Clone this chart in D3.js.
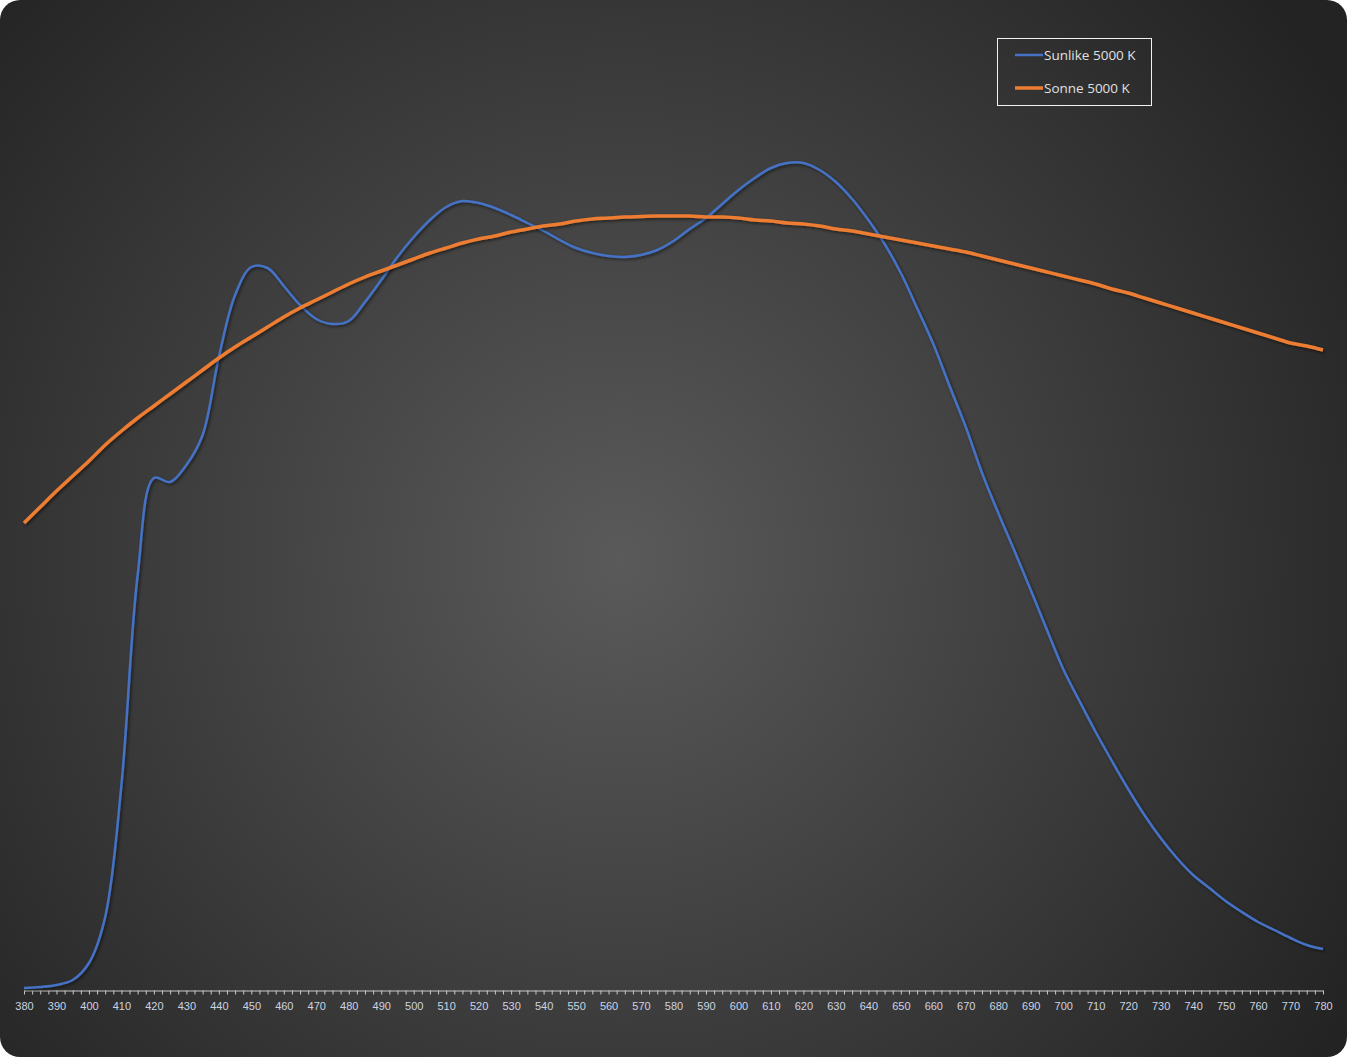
<!DOCTYPE html>
<html>
<head>
<meta charset="utf-8">
<script src="https://cdn.jsdelivr.net/npm/d3@7"></script>
<style>
  html, body { margin: 0; padding: 0; background: #fff; }
  svg { display: block; }
</style>
</head>
<body>
<div id="chart"></div>
<script>
// wavelength in nm, 5 nm steps
var wavelengths = d3.range(380, 781, 5);

// relative spectral power (arbitrary units)
var sunlike = [
  2, 3, 5, 10, 27, 73, 205, 415, 512, 508,
  525, 555, 633, 695, 723, 722, 704, 685, 671, 666,
  669, 688, 710, 733, 753, 770, 783, 789, 787, 782,
  775, 767, 759, 750, 742, 737, 734, 733, 735, 740,
  749, 761, 772, 786, 800, 812, 822, 827, 827, 820,
  808, 791, 770, 746, 717, 682, 646, 604, 563, 517,
  477, 439, 400, 360, 321, 289, 258, 229, 201, 175,
  152, 132, 115, 102, 89, 78, 68, 60, 52, 45, 41
];

var sonne = [
  467, 483, 499, 514, 529, 545, 559, 572, 584, 596,
  608, 620, 632, 643, 653, 663, 673, 682, 690, 698,
  706, 713, 719, 725, 731, 737, 742, 747, 751, 754,
  758, 761, 764, 766, 769, 771, 772, 773, 773.5, 774,
  774, 774, 773, 773, 772, 770, 769, 767, 766, 764,
  761, 759, 756, 753, 750, 747, 744, 741, 738, 734,
  730, 726, 722, 718, 714, 710, 706, 701, 697, 692,
  687, 682, 677, 672, 667, 662, 657, 652, 647, 644, 640
];

var seriesNames = ["Sunlike 5000 K", "Sonne 5000 K"];
var seriesColors = ["#4472c4", "#ed7d31"];
var seriesWidths = [2.5, 3.5];

var tickValues = d3.range(380, 780.1, 2.5);

var width = 1347, height = 1057;

var svg = d3.select("#chart").append("svg")
    .attr("width", width)
    .attr("height", height)
    .attr("font-family", "'Open Sans', 'Noto Sans', sans-serif");

var defs = svg.append("defs");

var grad = defs.append("radialGradient")
    .attr("id", "bg")
    .attr("gradientUnits", "userSpaceOnUse")
    .attr("cx", 620).attr("cy", 560)
    .attr("r", 860);
grad.append("stop").attr("offset", "0%").attr("stop-color", "#5a5a5a");
grad.append("stop").attr("offset", "100%").attr("stop-color", "#232323");

var shadow = defs.append("filter")
    .attr("id", "shadow")
    .attr("x", "-5%").attr("y", "-5%")
    .attr("width", "110%").attr("height", "110%");
shadow.append("feDropShadow")
    .attr("dx", 1.5).attr("dy", 1.5)
    .attr("stdDeviation", 1.5)
    .attr("flood-color", "#000")
    .attr("flood-opacity", 0.55);

svg.append("rect")
    .attr("width", width)
    .attr("height", height)
    .attr("rx", 20).attr("ry", 20)
    .attr("fill", "url(#bg)");

var x = d3.scaleLinear().domain([380, 780]).range([24, 1323]);
var y = d3.scaleLinear().domain([0, 827]).range([990, 163]);

// axis
var axis = d3.axisBottom(x)
    .tickValues(tickValues)
    .tickSize(4)
    .tickSizeOuter(0)
    .tickFormat(function(d) { return d % 10 === 0 ? d : ""; });

var gx = svg.append("g")
    .attr("transform", "translate(0,990.5)")
    .call(axis);

gx.select(".domain").attr("stroke", "#c8c8c8").attr("stroke-width", 1);
gx.selectAll(".tick line").attr("stroke", "#c8c8c8").attr("stroke-width", 1);
gx.selectAll(".tick text")
    .attr("fill", "#ccd3e2")
    .attr("font-size", 11)
    .attr("y", 11.5);

// lines
var line = d3.line()
    .x(function(d, i) { return x(wavelengths[i]); })
    .y(function(d) { return y(d); })
    .curve(d3.curveCatmullRom.alpha(0.5));

var series = [sunlike, sonne];

svg.selectAll(".series")
  .data(series)
  .join("path")
    .attr("class", "series")
    .attr("fill", "none")
    .attr("stroke", function(d, i) { return seriesColors[i]; })
    .attr("stroke-width", function(d, i) { return seriesWidths[i]; })
    .attr("stroke-linejoin", "round")
    .attr("filter", "url(#shadow)")
    .attr("d", line);

// legend
var legend = svg.append("g");
legend.append("rect")
    .attr("x", 997.5).attr("y", 38.5)
    .attr("width", 154).attr("height", 67)
    .attr("fill", "none")
    .attr("stroke", "#f2f2f2")
    .attr("stroke-width", 1);

var item = legend.selectAll(".item")
  .data(seriesNames)
  .join("g")
    .attr("class", "item")
    .attr("transform", function(d, i) { return "translate(0," + (55 + i * 33) + ")"; });

item.append("line")
    .attr("x1", 1015).attr("x2", 1043)
    .attr("stroke", function(d, i) { return seriesColors[i]; })
    .attr("stroke-width", function(d, i) { return seriesWidths[i]; });

item.append("text")
    .attr("x", 1044)
    .attr("dy", "0.35em")
    .attr("fill", "#e0e0e0")
    .attr("font-size", 13.5)
    .text(function(d) { return d; });
</script>
</body>
</html>
